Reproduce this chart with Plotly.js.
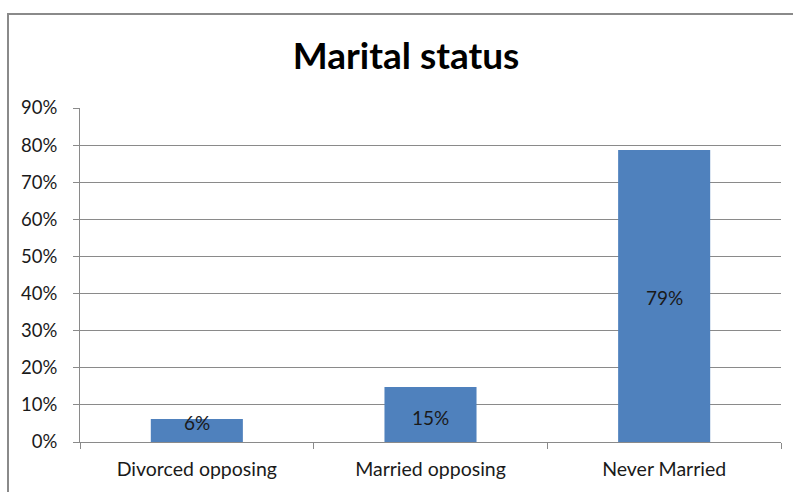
<!DOCTYPE html>
<html>
<head>
<meta charset="utf-8">
<script src="https://cdn.plot.ly/plotly-3.0.1.min.js"></script>
<style>
  html, body { margin: 0; padding: 0; overflow: hidden; background: #fff; }
  #wrap { position: relative; width: 793px; height: 492px; }
  #chart { position: absolute; left: 0; top: 0; width: 793px; height: 492px; }
  #frame { position: absolute; left: 7px; top: 13px; width: 900px; height: 600px;
           border: 2px solid #8a8a8a; box-sizing: border-box; pointer-events: none; }
</style>
</head>
<body>
<div id="wrap">
  <div id="chart"></div>
  <div id="frame"></div>
</div>
<script>
const categories = ["Divorced opposing", "Married opposing", "Never Married"];
const values = [0.062, 0.148, 0.787];
const valueLabels = ["6%", "15%", "79%"];
const labelShift = [8, -3, -2];
const titleText = "Marital status";

const FONT = "Lato, 'Open Sans', sans-serif";

const trace = {
  type: "bar",
  x: categories,
  y: values,
  marker: { color: "#4F81BD", line: { width: 0 } },
  hoverinfo: "skip"
};

const annotations = categories.map((c, i) => ({
  x: c,
  y: values[i] / 2,
  xref: "x",
  yref: "y",
  text: valueLabels[i],
  showarrow: false,
  yshift: labelShift[i],
  font: { family: FONT, size: 19, color: "#1a1a1a" }
}));

const layout = {
  width: 793,
  height: 492,
  margin: { l: 80, r: 12, t: 108, b: 50 },
  paper_bgcolor: "#ffffff",
  plot_bgcolor: "#ffffff",
  showlegend: false,
  bargap: 0.606,
  title: {
    text: "<b>" + titleText + "</b>",
    font: { family: FONT, size: 37, color: "#000000" },
    x: 0.512,
    xref: "container",
    xanchor: "center",
    y: 0.886,
    yref: "container",
    yanchor: "middle"
  },
  xaxis: {
    type: "category",
    showgrid: false,
    showline: true,
    linecolor: "#8a8a8a",
    linewidth: 1,
    ticks: "outside",
    tickson: "boundaries",
    ticklen: 6,
    tickcolor: "#8a8a8a",
    ticklabelstandoff: 10,
    tickfont: { family: FONT, size: 19.5, color: "#1a1a1a" },
    zeroline: false,
    fixedrange: true
  },
  yaxis: {
    range: [0, 0.9],
    dtick: 0.1,
    tick0: 0,
    tickformat: ".0%",
    showgrid: true,
    gridcolor: "#8a8a8a",
    gridwidth: 1,
    showline: true,
    linecolor: "#8a8a8a",
    linewidth: 1,
    ticks: "outside",
    ticklen: 6,
    tickcolor: "#8a8a8a",
    ticklabelstandoff: 12,
    tickfont: { family: FONT, size: 18.5, color: "#1a1a1a" },
    zeroline: false,
    fixedrange: true
  },
  annotations: annotations
};

Plotly.newPlot("chart", [trace], layout, { displayModeBar: false, staticPlot: true });
</script>
</body>
</html>
